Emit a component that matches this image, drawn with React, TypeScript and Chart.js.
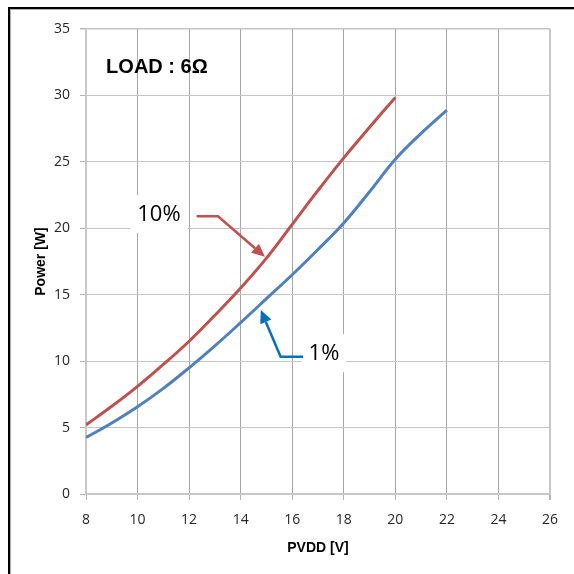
import React, { useEffect, useRef } from "react";
import { Chart, registerables } from "chart.js";

Chart.register(...registerables);

// ---- data ----
const pvdd10 = [8, 9, 10, 11, 12, 13, 14, 15, 16, 17, 18, 19, 20];
const power10 = [5.2, 6.6, 8.1, 9.75, 11.5, 13.45, 15.5, 17.75, 20.3, 22.85, 25.3, 27.6, 29.85];
const pvdd1 = [8, 9, 10, 11, 12, 13, 14, 15, 16, 17, 18, 19, 20, 21, 22];
const power1 = [4.25, 5.35, 6.57, 7.95, 9.5, 11.15, 12.9, 14.7, 16.5, 18.4, 20.4, 22.75, 25.2, 27.15, 28.9];
const xTickValues = [8, 10, 12, 14, 16, 18, 20, 22, 24, 26];
const yTickValues = [0, 5, 10, 15, 20, 25, 30, 35];

const titleText = "LOAD : 6Ω";
const xTitle = "PVDD [V]";
const yTitle = "Power [W]";

// annotations in data units
const loadLabel = { text: titleText, x: 8.78, y: 32.1 };
const curveLabels = [
  { text: "10%", x: 10.83, y: 21.07, color: "#C0504D", path: [[12.29, 20.9], [13.12, 20.9], [14.94, 17.86]] },
  { text: "1%", x: 17.23, y: 10.6, color: "#0070C0", path: [[16.42, 10.33], [15.55, 10.33], [14.78, 13.85]] },
];

const RED = "#C0504D";
const BLUE = "#4F81BD";
const FONT = "'Open Sans', 'Noto Sans', sans-serif";

const annotationPlugin = {
  id: "annots",
  afterDatasetsDraw(chart: any) {
    const { ctx } = chart;
    const xs = chart.scales.x;
    const ys = chart.scales.y;
    const px = (v: number) => xs.getPixelForValue(v);
    const py = (v: number) => ys.getPixelForValue(v);
    ctx.save();
    // LOAD label
    ctx.font = "bold 20px 'Liberation Sans', Arial, sans-serif";
    ctx.fillStyle = "#000";
    ctx.textBaseline = "middle";
    ctx.textAlign = "left";
    ctx.fillText(loadLabel.text, px(loadLabel.x), py(loadLabel.y));

    for (const lab of curveLabels) {
      ctx.font = "22px " + FONT;
      const w = ctx.measureText(lab.text).width;
      const cx = px(lab.x);
      const cy = py(lab.y);
      ctx.fillStyle = "#fff";
      ctx.fillRect(cx - w / 2 - 7, cy - 19, w + 14, 38);
      ctx.fillStyle = "#000";
      ctx.textAlign = "center";
      ctx.fillText(lab.text, cx, cy + 1);
      // arrow
      const pts = lab.path.map(([a, b]) => [px(a), py(b)]);
      ctx.strokeStyle = lab.color;
      ctx.fillStyle = lab.color;
      ctx.lineWidth = 2.5;
      const n = pts.length;
      const [tx, ty] = pts[n - 1];
      const [sx, sy] = pts[n - 2];
      const ang = Math.atan2(ty - sy, tx - sx);
      const headLen = 13;
      const headW = 6;
      const bx = tx - headLen * Math.cos(ang);
      const by = ty - headLen * Math.sin(ang);
      ctx.beginPath();
      ctx.moveTo(pts[0][0], pts[0][1]);
      for (let i = 1; i < n - 1; i++) ctx.lineTo(pts[i][0], pts[i][1]);
      ctx.lineTo(bx, by);
      ctx.stroke();
      ctx.beginPath();
      ctx.moveTo(tx, ty);
      ctx.lineTo(bx + headW * Math.sin(ang), by - headW * Math.cos(ang));
      ctx.lineTo(bx - headW * Math.sin(ang), by + headW * Math.cos(ang));
      ctx.closePath();
      ctx.fill();
    }
    ctx.restore();
  },
};

export default function App() {
  const ref = useRef<HTMLCanvasElement>(null);
  useEffect(() => {
    if (!ref.current) return;
    const chart = new Chart(ref.current, {
      type: "line",
      data: {
        datasets: [
          {
            label: "10%",
            data: pvdd10.map((x, i) => ({ x, y: power10[i] })),
            borderColor: RED,
            borderWidth: 3,
            pointRadius: 0,
            tension: 0.4,
            fill: false,
          },
          {
            label: "1%",
            data: pvdd1.map((x, i) => ({ x, y: power1[i] })),
            borderColor: BLUE,
            borderWidth: 3,
            pointRadius: 0,
            tension: 0.4,
            fill: false,
          },
        ],
      },
      options: {
        animation: false,
        responsive: false,
        devicePixelRatio: 1,
        layout: { padding: { top: 29, right: 24, left: 0, bottom: 0 } },
        plugins: { legend: { display: false }, tooltip: { enabled: false } },
        scales: {
          x: {
            type: "linear",
            min: 8,
            max: 26,
            afterBuildTicks: (s: any) => {
              s.ticks = xTickValues.map((v) => ({ value: v }));
            },
            afterFit: (s: any) => {
              s.height = 80;
            },
            ticks: { color: "#262626", font: { family: FONT, size: 14 }, padding: 12, maxRotation: 0 },
            grid: {
              color: (c: any) => (c.tick && (c.tick.value === 8 || c.tick.value === 26) ? "#c8c8c8" : "#a6a6a6"),
              lineWidth: (c: any) => (c.tick && c.tick.value === 26 ? 2 : 1),
              tickLength: 6,
              tickColor: "#b4b4b4",
            },
            border: { color: "#c8c8c8", width: 1.5 },
            title: {
              display: true,
              text: xTitle,
              color: "#000",
              font: { family: "'Liberation Sans', Arial, sans-serif", size: 14, weight: "bold" },
              padding: { top: 0, bottom: 17 },
            },
          },
          y: {
            type: "linear",
            min: 0,
            max: 35,
            afterBuildTicks: (s: any) => {
              s.ticks = yTickValues.map((v) => ({ value: v }));
            },
            afterFit: (s: any) => {
              s.width = 86;
            },
            ticks: { color: "#262626", font: { family: FONT, size: 14 }, padding: 10 },
            grid: {
              color: "#c4c4c4",
              lineWidth: (c: any) => (c.tick && c.tick.value === 35 ? 1.5 : 1),
              tickLength: 6,
              tickColor: "#b4b4b4",
            },
            border: { color: "#c8c8c8", width: 1.5 },
            title: {
              display: true,
              text: yTitle,
              color: "#000",
              font: { family: "'Liberation Sans', Arial, sans-serif", size: 14, weight: "bold" },
              padding: { top: 33, bottom: 0 },
            },
          },
        },
      } as any,
      plugins: [annotationPlugin],
    });
    return () => chart.destroy();
  }, []);

  return (
    <div style={{ position: "absolute", left: 0, top: 0, width: 574, height: 574, background: "#fff", overflow: "hidden" }}>
      <canvas ref={ref} width={574} height={574} style={{ display: "block", width: 574, height: 574 }} />
      <div
        style={{
          position: "absolute",
          left: 8,
          top: 7,
          width: 600,
          height: 600,
          borderTop: "2px solid #000",
          borderLeft: "2px solid #000",
          boxShadow: "inset 1px 1px 0 #b0b0b0",
          pointerEvents: "none",
        }}
      />
    </div>
  );
}
